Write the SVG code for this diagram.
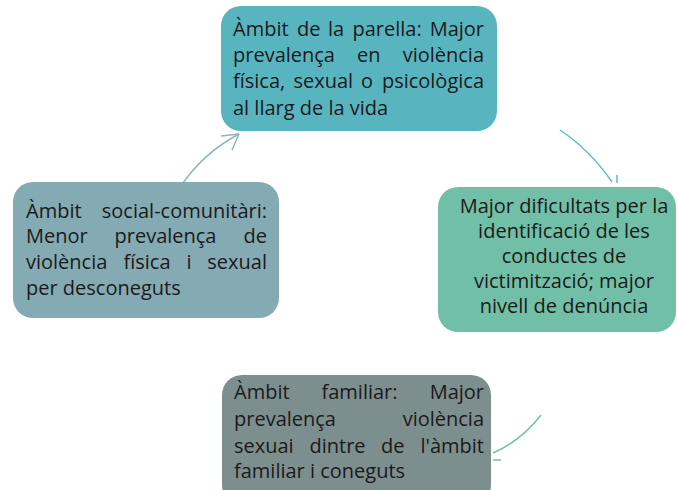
<svg xmlns="http://www.w3.org/2000/svg" width="678" height="490" viewBox="0 0 678 490">
<style>
text{font-family:"Open Sans","Liberation Sans",sans-serif;font-size:20px;fill:#1a1a1a}
.e{text-anchor:end}
.m{text-anchor:middle}
.c{fill:none;stroke-width:1.5}
</style>
<rect width="678" height="490" fill="#fff"/>
<g id="connectors">
<path class="c" stroke="#8CB6C0" d="M183,183 Q205,152 239,134"/>
<path class="c" stroke="#8CB6C0" d="M239,134 L221,136 M239,134 L232,150"/>
<path class="c" stroke="#5CBAC4" d="M560,130 Q590,150 612,182"/>
<path class="c" stroke="#5CBAC4" d="M617,175 L617,183"/>
<path class="c" stroke="#6FC0A8" d="M493,453 Q522,440 541,415"/>
<path class="c" stroke="#6FC0A8" d="M493,460 L501,460"/>
</g>
<g id="parella">
<rect x="221" y="6" width="276" height="125" rx="20" fill="#58B5C0"/>
<text x="233" y="36">Àmbit</text><text x="297" y="36">de</text><text x="328" y="36">la</text><text x="352.5" y="36">parella:</text><text class="e" x="484" y="36">Major</text>
<text x="233" y="62">prevalença</text><text x="357" y="62">en</text><text class="e" x="484" y="62">violència</text>
<text x="233" y="88">física,</text><text x="293.5" y="88">sexual</text><text x="361" y="88">o</text><text class="e" x="484" y="88">psicològica</text>
<text x="233" y="115">al llarg de la vida</text>
</g>
<g id="dificultats">
<rect x="438" y="187" width="238" height="145" rx="20" fill="#72BFA7"/>
<text class="m" x="564" y="213">Major dificultats per la</text>
<text class="m" x="564" y="238">identificació de les</text>
<text class="m" x="564" y="263">conductes de</text>
<text class="m" x="564" y="288">victimització; major</text>
<text class="m" x="564" y="313">nivell de denúncia</text>
</g>
<g id="social">
<rect x="13" y="182" width="266" height="136" rx="20" fill="#84AAB3"/>
<text x="26" y="218">Àmbit</text><text class="e" x="267" y="218">social-comunitàri:</text>
<text x="26" y="243">Menor</text><text x="114.5" y="243">prevalença</text><text class="e" x="267" y="243">de</text>
<text x="26" y="269">violència</text><text x="123.5" y="269">física</text><text x="186.5" y="269">i</text><text class="e" x="267" y="269">sexual</text>
<text x="26" y="295">per desconeguts</text>
</g>
<g id="familiar">
<rect x="222" y="375" width="269" height="130" rx="20" fill="#7D8E8E"/>
<text x="234" y="399">Àmbit</text><text x="321.5" y="399">familiar:</text><text class="e" x="484" y="399">Major</text>
<text x="234" y="426">prevalença</text><text class="e" x="484" y="426">violència</text>
<text x="234" y="453">sexuai</text><text x="309.5" y="453">dintre</text><text x="381" y="453">de</text><text class="e" x="484" y="453">l'àmbit</text>
<text x="234" y="478">familiar i coneguts</text>
</g>
</svg>
